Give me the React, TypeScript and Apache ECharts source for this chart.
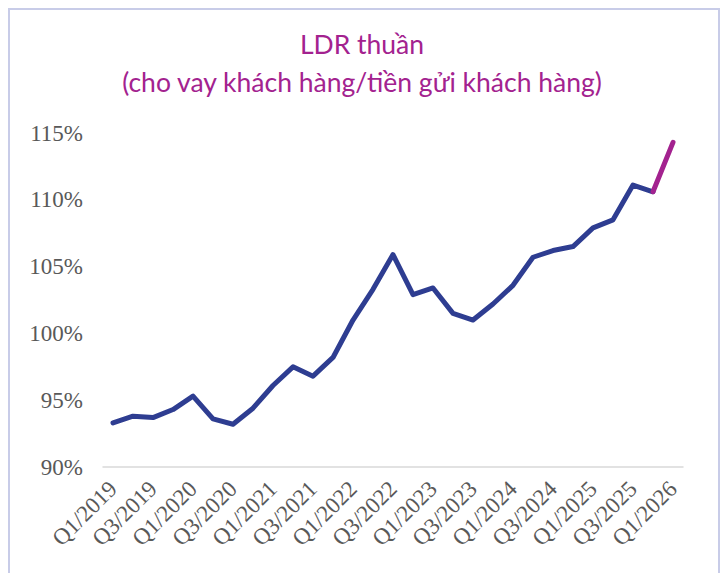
import React, { useEffect, useRef } from "react";
import * as echarts from "echarts";

const categories: string[] = [
  "Q1/2019", "Q2/2019", "Q3/2019", "Q4/2019",
  "Q1/2020", "Q2/2020", "Q3/2020", "Q4/2020",
  "Q1/2021", "Q2/2021", "Q3/2021", "Q4/2021",
  "Q1/2022", "Q2/2022", "Q3/2022", "Q4/2022",
  "Q1/2023", "Q2/2023", "Q3/2023", "Q4/2023",
  "Q1/2024", "Q2/2024", "Q3/2024", "Q4/2024",
  "Q1/2025", "Q2/2025", "Q3/2025", "Q4/2025",
  "Q1/2026",
];

const ldrValues: number[] = [
  93.3, 93.8, 93.7, 94.3, 95.3, 93.6, 93.2, 94.4,
  96.1, 97.5, 96.8, 98.2, 101.0, 103.3, 105.9, 102.9,
  103.4, 101.5, 101.0, 102.2, 103.6, 105.7, 106.2, 106.5,
  107.9, 108.5, 111.1, 110.6, 114.3,
];

const forecastFrom = 27; // last segment highlighted

const yMin = 90;
const yMax = 115;
const yStep = 5;

const titleText = "LDR thuần\n(cho vay khách hàng/tiền gửi khách hàng)";

export default function App() {
  const ref = useRef<HTMLDivElement>(null);

  useEffect(() => {
    if (!ref.current) return;
    const chart = echarts.init(ref.current, undefined, { renderer: "svg" });

    const mainData = ldrValues.map((v, i) => (i <= forecastFrom ? v : null));
    const lastData = ldrValues.map((v, i) => (i >= forecastFrom ? v : null));

    chart.setOption({
      animation: false,
      backgroundColor: "#ffffff",
      title: {
        text: titleText,
        left: "center",
        top: 20,
        textStyle: {
          fontFamily: "Lato",
          fontSize: 26.5,
          fontWeight: "normal",
          color: "#A3228F",
          lineHeight: 38,
        },
      },
      graphic: [
        {
          type: "rect",
          shape: { x: 9, y: 9, width: 710, height: 620 },
          style: { fill: "none", stroke: "#C8CCE8", lineWidth: 2 },
          silent: true,
        },
      ],
      grid: {
        left: 103,
        right: 41,
        top: 133,
        bottom: 106,
        containLabel: false,
      },
      xAxis: {
        type: "category",
        data: categories,
        boundaryGap: true,
        axisLine: { show: true, lineStyle: { color: "#D9D9D9", width: 1.5 } },
        axisTick: { show: false },
        axisLabel: {
          interval: 1,
          rotate: 45,
          margin: 18,
          fontFamily: "Liberation Serif",
          fontSize: 23,
          color: "#595959",
        },
        splitLine: { show: false },
      },
      yAxis: {
        type: "value",
        min: yMin,
        max: yMax,
        interval: yStep,
        axisLine: { show: false },
        axisTick: { show: false },
        splitLine: { show: false },
        axisLabel: {
          margin: 20,
          fontFamily: "Liberation Serif",
          fontSize: 23,
          color: "#595959",
          formatter: (v: number) => `${v}%`,
        },
      },
      series: [
        {
          type: "line",
          data: mainData,
          symbol: "none",
          connectNulls: false,
          lineStyle: { color: "#2E3D91", width: 5, cap: "round", join: "round" },
          z: 2,
        },
        {
          type: "line",
          data: lastData,
          symbol: "none",
          connectNulls: false,
          lineStyle: { color: "#A3228F", width: 5, cap: "round", join: "round" },
          z: 3,
        },
      ],
    });

    return () => chart.dispose();
  }, []);

  return (
    <div
      ref={ref}
      style={{ position: "fixed", left: 0, top: 0, width: 724, height: 573 }}
    />
  );
}
